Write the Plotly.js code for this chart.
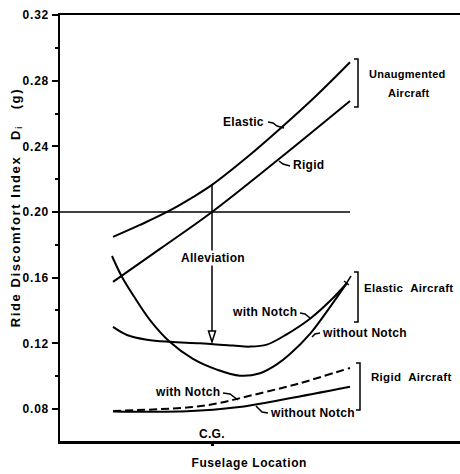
<!DOCTYPE html>
<html>
<head>
<meta charset="utf-8">
<script src="https://cdn.plot.ly/plotly-3.0.1.min.js"></script>
<style>
html,body{margin:0;padding:0;background:#fff;}
#chart{width:460px;height:474px;}
.annotation-text{letter-spacing:0.3px;}
.ytick text{letter-spacing:0.8px;}
g.annotation[data-index="0"] .annotation-text{letter-spacing:1.6px;}
g.annotation[data-index="1"] .annotation-text{letter-spacing:0.6px;}
</style>
</head>
<body>
<div id="chart"></div>
<script>
// ---- data (fuselage location in % of plotted span, Ride Discomfort Index in g) ----
const elasticUnaugX = [13.25, 20, 26.75, 33.25, 38, 46.75, 55.5, 64.25, 72.5];
const elasticUnaugY = [0.1848, 0.1921, 0.2000, 0.2091, 0.2165, 0.2333, 0.2518, 0.2713, 0.2912];

const rigidUnaugX = [13.25, 25, 38, 54.5, 72.5];
const rigidUnaugY = [0.1574, 0.1775, 0.2000, 0.2318, 0.2676];

const elasticNotchX = [13.25, 16.75, 21.75, 27.5, 35, 43.25, 47.5, 51.7, 56.67, 62.5, 68.33, 71.67];
const elasticNotchY = [0.1300, 0.1251, 0.1222, 0.1209, 0.1200, 0.1186, 0.1180, 0.1192, 0.1255, 0.1350, 0.1478, 0.1566];

const elasticNoNotchX = [13, 15.5, 18.75, 22.5, 27.5, 33.25, 39.2, 45, 50, 54.2, 57.5, 62.5, 67.5, 71.75];
const elasticNoNotchY = [0.1732, 0.1604, 0.1476, 0.1342, 0.1208, 0.1105, 0.1040, 0.1003, 0.1018, 0.1072, 0.1135, 0.1258, 0.1421, 0.1568];

const rigidNotchX = [13.25, 33.25, 40, 45, 56.75, 60, 72.5];
const rigidNotchY = [0.0788, 0.0812, 0.0837, 0.0866, 0.0936, 0.0957, 0.1050];

const rigidNoNotchX = [13.25, 31.75, 44.25, 56.75, 72.5];
const rigidNoNotchY = [0.0785, 0.0786, 0.0810, 0.0862, 0.0935];

const yTickVals = [0.08, 0.12, 0.16, 0.20, 0.24, 0.28, 0.32];
const yTickText = ['0.08', '0.12', '0.16', '0.20', '0.24', '0.28', '0.32'];
const yMinorVals = [0.10, 0.14, 0.18, 0.22, 0.26, 0.30];
const xTickVals = [38];
const xTickText = ['C.G.'];
const referenceLevel = 0.20;
const xTitle = 'Fuselage Location';
const yTitle = 'Ride\u00A0Discomfort\u00A0Index\u00A0\u00A0\u00A0D<sub>i</sub>\u00A0\u00A0\u00A0(g)';

// ---- helpers for placing labels (pixel reading -> axis coordinates) ----
const Y0 = 0.0605, Y1 = 0.32;
const X = px => (px - 60) / 4;
const Y = py => Y1 - (py - 15) * (Y1 - Y0) / 426;
const P = (pts) => 'M ' + pts.map(p => X(p[0]) + ',' + Y(p[1])).join(' L ');

const FONT = {family: 'Liberation Sans, Arial, sans-serif', size: 12, color: '#000', weight: 700};
const F = (s) => Object.assign({}, FONT, {size: s});

function line(x, y, dash, w) {
  return {x: x, y: y, type: 'scatter', mode: 'lines', hoverinfo: 'skip',
          line: {color: '#000', width: w || 2, shape: 'spline', smoothing: 1, dash: dash || 'solid'}};
}

const traces = [
  line(elasticUnaugX, elasticUnaugY),
  line(rigidUnaugX, rigidUnaugY),
  line(elasticNotchX, elasticNotchY),
  line(elasticNoNotchX, elasticNoNotchY),
  line(rigidNotchX, rigidNotchY, '8px,4px'),
  line(rigidNoNotchX, rigidNoNotchY)
];

const blk = {color: '#000', width: 1.5};
const shp = (path, extra) => Object.assign({type: 'path', xref: 'x', yref: 'y', path: path, line: blk}, extra || {});
const shapes = [
  {type: 'line', xref: 'x', yref: 'y', x0: 0, x1: X(350), y0: referenceLevel, y1: referenceLevel, line: blk},
  {type: 'line', xref: 'x', yref: 'y', x0: xTickVals[0], x1: xTickVals[0], y0: Y(185), y1: Y(333), line: blk},
  shp(P([[208.5,331],[215.5,331],[212,342]]) + ' Z', {fillcolor: '#fff'}),
  // brackets
  shp(P([[354,59],[358,59],[358,107],[354,107]])),
  shp(P([[354,272],[358,272],[358,322],[354,322]])),
  shp(P([[356,363],[360,363],[360,410],[356,410]])),
  // leaders
  shp(P([[268,122],[273,123],[277,126],[284,128]])),
  shp(P([[279,161],[283,164],[290,166]])),
  shp(P([[300,313],[305,314],[310,318]])),
  shp(P([[312,337],[315,334],[320,333]])),
  shp(P([[223,393],[230,394],[238,400]])),
  shp(P([[256,406],[262,412],[268,413]])),
  // fork at end of elastic curves
  shp(P([[346,284],[351,276]])),
  shp(P([[344,281],[349,285]]))
];

function ann(text, px, py, xanchor, extra) {
  return Object.assign({text: text, x: X(px), y: Y(py), xref: 'x', yref: 'y', showarrow: false,
                        xanchor: xanchor || 'center', yanchor: 'middle', font: FONT}, extra || {});
}

const annotations = [
  {text: yTitle, xref: 'paper', yref: 'paper', x: (16 - 60) / 400, y: (441 - 207.5) / 426,
   xanchor: 'center', yanchor: 'middle', textangle: -90, showarrow: false, font: F(13)},
  {text: xTitle, xref: 'paper', yref: 'paper', x: (249 - 60) / 400, y: (441 - 463) / 426,
   xanchor: 'center', yanchor: 'middle', showarrow: false, font: F(12)},
  ann('Elastic', 266, 122, 'right'),
  ann('Rigid', 291, 165, 'left'),
  ann('Unaugmented', 407, 74, 'center', {font: F(11)}),
  ann('Aircraft', 409, 93, 'center', {font: F(11)}),
  ann('Alleviation', 213, 258, 'center', {bgcolor: '#fff', borderpad: 0}),
  ann('Elastic\u00A0\u00A0Aircraft', 362, 288, 'left', {font: F(11.5)}),
  ann('with Notch', 299, 312, 'right'),
  ann('without Notch', 320, 333, 'left'),
  ann('Rigid\u00A0\u00A0Aircraft', 369, 377, 'left', {font: F(11.5)}),
  ann('with Notch', 222, 392, 'right'),
  ann('without Notch', 268, 413, 'left'),
  ann(xTickText[0], 212, 434)
];

const layout = {
  width: 460, height: 474,
  margin: {l: 60, r: 0, t: 15, b: 33},
  paper_bgcolor: '#fff', plot_bgcolor: '#fff',
  showlegend: false,
  font: FONT,
  xaxis: {
    range: [0, 100], showgrid: false, zeroline: false,
    showline: true, linecolor: '#000', linewidth: 2.5, mirror: true,
    tickmode: 'array', tickvals: xTickVals, ticktext: xTickText, ticks: 'outside', ticklen: 2, tickwidth: 3, tickcolor: '#000',
    showticklabels: false,
    automargin: false, fixedrange: true
  },
  yaxis: {
    range: [Y0, Y1], showgrid: false, zeroline: false,
    showline: true, linecolor: '#000', linewidth: 2.5,
    tickmode: 'array', tickvals: yTickVals, ticktext: yTickText,
    ticks: 'outside', ticklen: 6, tickwidth: 2, tickcolor: '#000',
    tickfont: F(12),
    minor: {tickmode: 'array', tickvals: yMinorVals, ticks: 'outside', ticklen: 3, tickwidth: 2, tickcolor: '#000', showgrid: false},
    automargin: false, fixedrange: true
  },
  shapes: shapes,
  annotations: annotations
};

Plotly.newPlot('chart', traces, layout, {staticPlot: true, displayModeBar: false});
</script>
</body>
</html>
